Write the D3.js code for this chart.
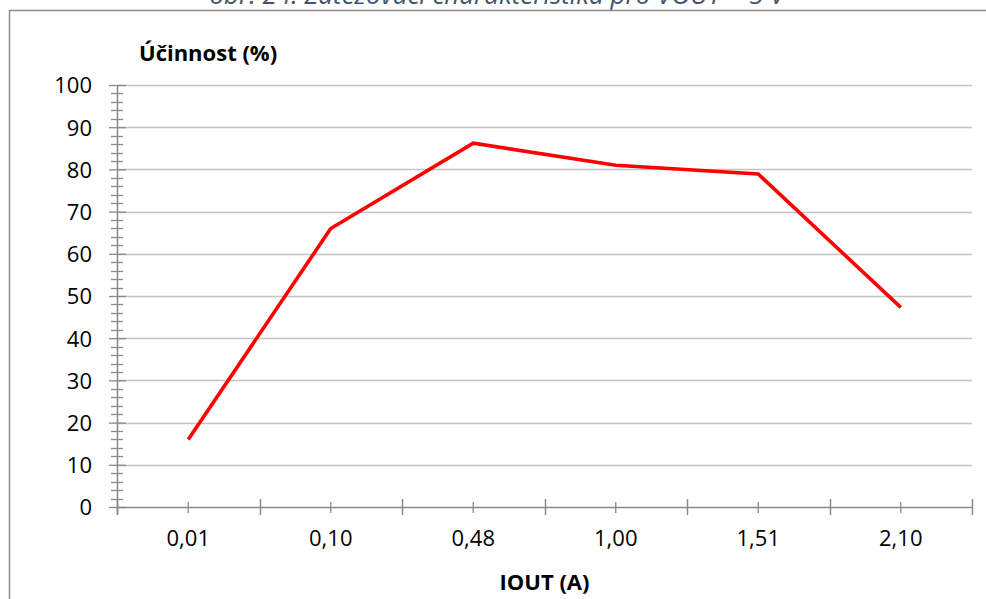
<!DOCTYPE html>
<html>
<head>
<meta charset="utf-8">
<script src="https://cdn.jsdelivr.net/npm/d3@7"></script>
<style>
  html, body { margin: 0; padding: 0; background: #fff; }
  svg { display: block; }
</style>
</head>
<body>
<svg id="chart" width="986" height="599"></svg>
<script>
const categories = ["0,01", "0,10", "0,48", "1,00", "1,51", "2,10"];
const efficiency = [16.0, 66.0, 86.2, 81.0, 78.9, 47.3];
const yTicks = [0, 10, 20, 30, 40, 50, 60, 70, 80, 90, 100];
const titleText = "obr. 24: Zatěžovací charakteristika pro VOUT = 5 V";
const yTitle = "Účinnost (%)";
const xTitle = "IOUT (A)";

(function () {
const svg = d3.select("#chart");
const font = "'Open Sans', 'DejaVu Sans', sans-serif";
const mLeft = 117, mRight = 972, mTop = 85, mBottom = 507;

// caption (cut off at top, as in the source page)
svg.append("text")
  .attr("x", 497).attr("y", 4)
  .attr("text-anchor", "middle")
  .attr("font-family", font).attr("font-style", "italic")
  .attr("font-size", 26).attr("fill", "#44546A")
  .text(titleText);

// outer chart border
svg.append("path")
  .attr("d", "M9.5,599 V10.5 H986")
  .attr("fill", "none").attr("stroke", "#8c8c8c").attr("stroke-width", 1.5);

const x = d3.scaleBand().domain(categories).range([mLeft, mRight]).padding(0);
const y = d3.scaleLinear().domain([0, 100]).range([mBottom, mTop]);

// gridlines
svg.append("g").selectAll("line").data(yTicks.filter(d => d > 0)).join("line")
  .attr("x1", mLeft).attr("x2", mRight)
  .attr("y1", d => Math.round(y(d)) + 0.5).attr("y2", d => Math.round(y(d)) + 0.5)
  .attr("stroke", "#c4c4c4").attr("stroke-width", 1.3);

const axisColor = "#898989";

// y axis minor ticks
const minor = d3.range(0, 101, 2).filter(d => d % 10 !== 0);
svg.append("g").selectAll("line").data(minor).join("line")
  .attr("x1", mLeft - 6).attr("x2", mLeft + 6)
  .attr("y1", d => Math.round(y(d)) + 0.5).attr("y2", d => Math.round(y(d)) + 0.5)
  .attr("stroke", axisColor).attr("stroke-width", 1.3);

// y axis with major ticks and labels
const yAxis = svg.append("g")
  .attr("transform", `translate(${mLeft},0)`)
  .call(d3.axisLeft(y).tickValues(yTicks).tickSize(8).tickPadding(17).tickFormat(d3.format("d")));
yAxis.select(".domain").remove();
yAxis.selectAll(".tick line").attr("stroke", axisColor).attr("stroke-width", 1.3).attr("x2", -8).attr("x1", 9);
yAxis.selectAll(".tick text").attr("font-family", font).attr("font-size", 22).attr("fill", "#000").attr("dy", "0.36em");

svg.append("line")
  .attr("x1", mLeft + 0.5).attr("x2", mLeft + 0.5).attr("y1", mTop).attr("y2", mBottom + 8)
  .attr("stroke", axisColor).attr("stroke-width", 1.5);

// x axis
svg.append("line")
  .attr("x1", mLeft).attr("x2", mRight).attr("y1", mBottom + 0.5).attr("y2", mBottom + 0.5)
  .attr("stroke", axisColor).attr("stroke-width", 1.5);

const bounds = categories.map(c => x(c)).concat([x(categories[categories.length - 1]) + x.bandwidth()]);
svg.append("g").selectAll("line").data(bounds).join("line")
  .attr("x1", d => Math.round(d) + 0.5).attr("x2", d => Math.round(d) + 0.5)
  .attr("y1", mBottom - 8).attr("y2", mBottom + 8)
  .attr("stroke", axisColor).attr("stroke-width", 1.5);

const xAxis = svg.append("g")
  .attr("transform", `translate(0,${mBottom})`)
  .call(d3.axisBottom(x).tickSize(6).tickPadding(17));
xAxis.select(".domain").remove();
xAxis.selectAll(".tick line").attr("stroke", axisColor).attr("stroke-width", 1.3).attr("y1", -5).attr("y2", 6);
xAxis.selectAll(".tick text").attr("font-family", font).attr("font-size", 22).attr("fill", "#000");

// line
const line = d3.line()
  .x((d, i) => x(categories[i]) + x.bandwidth() / 2)
  .y(d => y(d));
svg.append("path").datum(efficiency)
  .attr("d", line)
  .attr("fill", "none").attr("stroke", "#FF0000").attr("stroke-width", 3.6)
  .attr("stroke-linejoin", "miter");

// axis titles
svg.append("text")
  .attr("x", 139).attr("y", 61)
  .attr("font-family", font).attr("font-weight", "bold").attr("font-size", 22)
  .attr("fill", "#000").text(yTitle);

svg.append("text")
  .attr("x", (mLeft + mRight) / 2).attr("y", 590)
  .attr("text-anchor", "middle")
  .attr("font-family", font).attr("font-weight", "bold").attr("font-size", 22)
  .attr("fill", "#000").text(xTitle);
})();
</script>
</body>
</html>
